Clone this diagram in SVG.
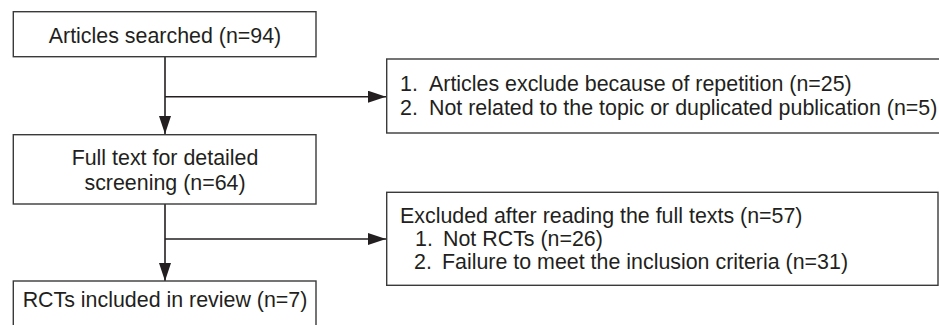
<svg xmlns="http://www.w3.org/2000/svg" width="939" height="325" viewBox="0 0 939 325">
  <defs>
    <marker id="arrow" markerUnits="userSpaceOnUse" markerWidth="18" markerHeight="12" refX="18" refY="6" orient="auto">
      <path d="M0,0 L18,6 L0,12 Z" fill="#231f20"/>
    </marker>
    <style>
      .box { fill: #ffffff; stroke: #3a3a3a; stroke-width: 1.4; }
      .lbl { font-family: "Liberation Sans", Arial, sans-serif; font-size: 21.4px; fill: #231f20; }
      .mid { text-anchor: middle; }
      .edge { fill: none; stroke: #231f20; stroke-width: 1.6; }
    </style>
  </defs>
  <rect width="939" height="325" fill="#ffffff"/>

  <!-- flow connectors -->
  <g id="connectors">
    <line class="edge" x1="165" y1="57" x2="165" y2="134" marker-end="url(#arrow)"/>
    <line class="edge" x1="165" y1="96.7" x2="386" y2="96.7" marker-end="url(#arrow)"/>
    <line class="edge" x1="165" y1="204" x2="165" y2="281" marker-end="url(#arrow)"/>
    <line class="edge" x1="165" y1="239" x2="386" y2="239" marker-end="url(#arrow)"/>
  </g>

  <g id="searched">
    <rect class="box" x="13.3" y="11.7" width="302.7" height="45"/>
    <text class="lbl mid" x="165" y="43.3">Articles searched (n=94)</text>
  </g>

  <g id="excluded-first">
    <rect class="box" x="386.7" y="59" width="560" height="74"/>
    <text class="lbl" y="91"><tspan x="400">1.</tspan><tspan x="429">Articles exclude because of repetition (n=25)</tspan></text>
    <text class="lbl" y="115"><tspan x="400">2.</tspan><tspan x="429">Not related to the topic or duplicated publication (n=5)</tspan></text>
  </g>

  <g id="full-text">
    <rect class="box" x="13.3" y="134.7" width="302.7" height="69.3"/>
    <text class="lbl mid" x="165" y="165">Full text for detailed</text>
    <text class="lbl mid" x="165" y="190">screening (n=64)</text>
  </g>

  <g id="excluded-second">
    <rect class="box" x="386.7" y="192.3" width="551.3" height="93"/>
    <text class="lbl" x="400" y="222.7">Excluded after reading the full texts (n=57)</text>
    <text class="lbl" y="245.7"><tspan x="415">1.</tspan><tspan x="443">Not RCTs (n=26)</tspan></text>
    <text class="lbl" y="269"><tspan x="414">2.</tspan><tspan x="442">Failure to meet the inclusion criteria (n=31)</tspan></text>
  </g>

  <g id="included">
    <rect class="box" x="13.3" y="281" width="302.7" height="60"/>
    <text class="lbl mid" x="165" y="306.7">RCTs included in review (n=7)</text>
  </g>
</svg>
